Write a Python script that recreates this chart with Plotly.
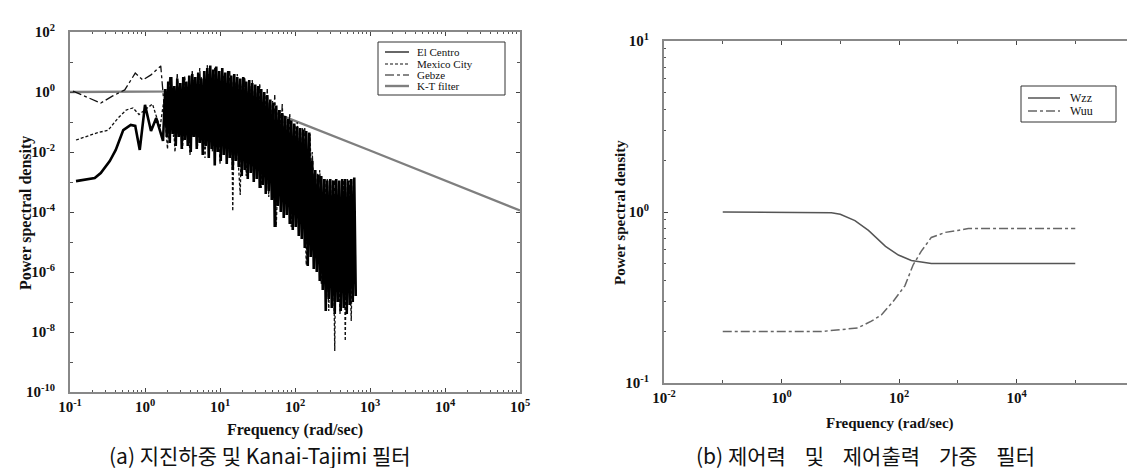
import plotly.graph_objects as go

# ---------------- Panel (a): earthquake spectra and Kanai-Tajimi filter ----------------
# values are log10(frequency [rad/s]) and log10(PSD)
kt_logf = [-1.0, 0.0, 0.5, 0.8, 1.0, 1.15, 1.3, 1.5, 1.7, 1.907, 3.0, 4.0, 5.0]
kt_logpsd = [0.0, 0.0, 0.02, 0.08, 0.2, 0.3, 0.15, -0.4, -0.65, -0.87, -1.95, -2.95, -3.95]

elc_logf = [-0.92, -0.8, -0.67, -0.59, -0.47, -0.39, -0.29, -0.19, -0.13, -0.07, 0.0, 0.08, 0.15, 0.24,
            0.27, 0.29, 0.31, 0.33, 0.35, 0.37, 0.39, 0.41, 0.43, 0.45, 0.47, 0.49, 0.51, 0.53, 0.55,
            0.57, 0.59, 0.61, 0.63, 0.65, 0.67, 0.69, 0.71, 0.73, 0.75, 0.77, 0.79, 0.81, 0.83, 0.85,
            0.87, 0.89, 0.91, 0.93, 0.95, 0.97, 0.99, 1.01, 1.03, 1.05, 1.07, 1.09, 1.11, 1.13, 1.15,
            1.17, 1.19, 1.21, 1.23, 1.25, 1.27, 1.29, 1.31, 1.33, 1.35, 1.37, 1.39, 1.41, 1.43, 1.45,
            1.47, 1.49, 1.51, 1.53, 1.55, 1.57, 1.59, 1.61, 1.63, 1.65, 1.67, 1.69, 1.71, 1.73, 1.75,
            1.77, 1.79, 1.81, 1.83, 1.85, 1.87, 1.89, 1.91, 1.93, 1.95, 1.97, 1.99, 2.01, 2.03, 2.05,
            2.07, 2.09, 2.11, 2.13, 2.15, 2.17, 2.19, 2.21, 2.23, 2.25, 2.27, 2.29, 2.31, 2.33, 2.35,
            2.37, 2.39, 2.41, 2.43, 2.45, 2.47, 2.49, 2.51, 2.53, 2.55, 2.57, 2.59, 2.61, 2.63, 2.65,
            2.67, 2.69, 2.71, 2.73, 2.75, 2.77, 2.79, 2.81]
elc_logpsd = [-2.97, -2.93, -2.87, -2.7, -2.3, -1.93, -1.27, -1.1, -1.13, -1.93, -0.43, -1.3, -0.87, -1.63,
              0.1, -1.5, 0.35, -1.7, 0.5, -1.4, 0.2, -1.8, 0.45, -1.5, 0.3, -1.9, 0.5, -1.6, 0.35,
              -1.8, 0.55, -2.0, 0.6, -1.5, 0.5, -1.9, 0.65, -1.7, 0.45, -2.1, 0.7, -1.8, 0.8, -2.2,
              0.88, -1.9, 0.75, -2.45, 0.85, -2.0, 0.7, -2.3, 0.8, -2.1, 0.65, -2.4, 0.7, -2.2, 0.55,
              -2.6, 0.6, -2.3, 0.5, -2.5, 0.45, -2.8, 0.5, -2.6, 0.35, -2.9, 0.4, -2.7, 0.3, -3.0,
              0.25, -2.9, 0.2, -3.2, 0.1, -3.1, 0.0, -3.4, -0.1, -3.3, -0.25, -3.6, -0.35, -4.5, -0.45,
              -3.8, -0.6, -4.0, -0.7, -4.2, -0.8, -4.1, -0.9, -4.4, -0.95, -4.6, -1.05, -4.5, -1.15, -4.8,
              -1.2, -4.9, -1.25, -5.2, -1.3, -5.8, -1.35, -5.5, -2.3, -5.9, -2.6, -6.0, -2.75, -6.3, -2.8,
              -6.6, -2.9, -7.3, -2.95, -6.9, -2.9, -7.2, -2.95, -7.4, -2.9, -7.0, -2.95, -7.3, -2.9, -7.2,
              -2.9, -7.4, -2.95, -7.1, -2.9, -7.0, -2.85, -6.8]

mex_logf = [-0.92, -0.8, -0.65, -0.49, -0.36, -0.25, -0.16, -0.08, 0.0, 0.1, 0.2,
            0.25, 0.30, 0.35, 0.40, 0.45, 0.50, 0.55, 0.60, 0.65, 0.70, 0.75, 0.80, 0.85, 0.90,
            0.95, 1.00, 1.05, 1.10, 1.15, 1.17, 1.20, 1.25, 1.27, 1.30, 1.35, 1.40, 1.45, 1.50,
            1.55, 1.60, 1.65, 1.70, 1.75, 1.80, 1.85, 1.90, 1.95, 2.00, 2.05, 2.10, 2.15, 2.20,
            2.25, 2.30, 2.35, 2.40, 2.45, 2.50, 2.53, 2.55, 2.60, 2.65, 2.67, 2.70, 2.75, 2.78]
mex_logpsd = [-1.6, -1.5, -1.37, -1.27, -0.87, -0.6, -0.53, -0.75, -0.6, -0.4, -1.2,
              -0.3, -1.9, 0.2, -2.0, 0.1, -1.9, 0.3, -2.1, 0.4, -1.8, 0.5, -2.2, 0.6, -2.0,
              0.65, -2.4, 0.55, -2.1, 0.4, -3.97, 0.35, -2.6, -3.43, 0.3, -2.8, 0.2, -3.0, 0.1,
              -3.2, -0.1, -3.5, -0.3, -4.5, -0.6, -3.9, -0.9, -4.5, -1.1, -4.7, -1.2, -5.77, -1.4,
              -5.6, -2.7, -6.4, -2.9, -7.3, -2.95, -8.63, -2.9, -7.4, -2.95, -8.3, -2.9, -7.63, -2.9]

geb_logf = [-0.96, -0.76, -0.59, -0.43, -0.27, -0.13, -0.03, 0.08, 0.21,
            0.28, 0.33, 0.38, 0.43, 0.48, 0.53, 0.58, 0.63, 0.68, 0.73, 0.78, 0.83, 0.88, 0.93,
            0.98, 1.03, 1.08, 1.13, 1.18, 1.23, 1.28, 1.33, 1.38, 1.43, 1.48, 1.53, 1.58, 1.63,
            1.68, 1.73, 1.78, 1.83, 1.88, 1.93, 1.98, 2.03, 2.08, 2.13, 2.18, 2.23, 2.28, 2.33,
            2.38, 2.43, 2.48, 2.53, 2.58, 2.63, 2.68, 2.73, 2.78]
geb_logpsd = [0.03, -0.2, -0.37, -0.13, 0.07, 0.63, 0.4, 0.57, 0.87,
              -1.2, 0.5, -1.5, 0.6, -1.3, 0.55, -1.7, 0.7, -1.5, 0.8, -1.8, 0.9, -1.6, 0.85,
              -2.0, 0.8, -1.9, 0.7, -2.2, 0.6, -2.1, 0.5, -2.4, 0.4, -2.5, 0.3, -2.7, 0.1,
              -3.0, -0.1, -3.3, -0.4, -3.6, -0.7, -3.9, -1.0, -4.2, -1.2, -4.5, -2.0, -5.0, -2.6,
              -5.6, -2.9, -6.2, -2.95, -6.6, -2.9, -6.9, -2.95, -6.7]

# ---------------- Panel (b): weighting filters ----------------
wzz_logf = [-1.0, 0.0, 0.6, 0.85, 1.0, 1.25, 1.48, 1.77, 1.99, 2.21, 2.55, 3.0, 4.0, 5.0]
wzz_val = [1.0, 1.0, 1.0, 0.99, 0.97, 0.89, 0.78, 0.63, 0.56, 0.52, 0.50, 0.50, 0.50, 0.50]
wuu_logf = [-1.0, 0.0, 0.67, 1.0, 1.30, 1.53, 1.70, 1.90, 2.10, 2.24, 2.38, 2.55, 2.79, 3.0, 3.18, 4.0, 5.0]
wuu_val = [0.20, 0.20, 0.20, 0.205, 0.21, 0.23, 0.25, 0.30, 0.37, 0.49, 0.59, 0.71, 0.76, 0.78, 0.80, 0.80, 0.80]

# tick exponents
a_x_exp = [-1, 0, 1, 2, 3, 4, 5]
a_y_exp = [2, 0, -2, -4, -6, -8, -10]
b_x_exp = [-2, 0, 2, 4, 6]
b_y_exp = [1, 0, -1]

# legend names
a_names = ["El Centro", "Mexico City", "Gebze", "K-T filter"]
b_names = ["Wzz", "Wuu"]


def p10(a):
    return [10 ** v for v in a]


def labels(exps):
    return ["<b>10<sup>%d</sup></b>" % e for e in exps]


SERIF = "Liberation Serif"
W, H = 1135, 468

sty_kt = dict(color="#7f7f7f", width=2.4)
sty_geb = dict(color="#111", width=1.3, dash="dashdot")
sty_mex = dict(color="#111", width=1.3, dash="3px,2px")
sty_elc = dict(color="#000", width=2.6)
sty_wzz = dict(color="#555", width=1.5)
sty_wuu = dict(color="#666", width=1.5, dash="dashdot")

fig = go.Figure()
fig.add_trace(go.Scatter(x=p10(kt_logf), y=p10(kt_logpsd), mode="lines", name=a_names[3],
                         line=sty_kt, xaxis="x", yaxis="y"))
fig.add_trace(go.Scatter(x=p10(geb_logf), y=p10(geb_logpsd), mode="lines", name=a_names[2],
                         line=sty_geb, xaxis="x", yaxis="y"))
fig.add_trace(go.Scatter(x=p10(mex_logf), y=p10(mex_logpsd), mode="lines", name=a_names[1],
                         line=sty_mex, xaxis="x", yaxis="y"))
fig.add_trace(go.Scatter(x=p10(elc_logf), y=p10(elc_logpsd), mode="lines", name=a_names[0],
                         line=sty_elc, xaxis="x", yaxis="y"))
fig.add_trace(go.Scatter(x=p10(wzz_logf), y=wzz_val, mode="lines", name=b_names[0],
                         line=sty_wzz, xaxis="x2", yaxis="y2"))
fig.add_trace(go.Scatter(x=p10(wuu_logf), y=wuu_val, mode="lines", name=b_names[1],
                         line=sty_wuu, xaxis="x2", yaxis="y2"))

axis_common = dict(type="log", showgrid=False, zeroline=False, ticks="inside", ticklen=4,
                   tickcolor="#444", showline=True, linecolor="#888", linewidth=2, mirror="ticks",
                   automargin=False, tickmode="array",
                   tickfont=dict(family=SERIF, size=15, color="#111"))

fig.update_layout(
    width=W, height=H, margin=dict(l=0, r=0, t=0, b=0),
    paper_bgcolor="white", plot_bgcolor="white", showlegend=False,
    xaxis=dict(axis_common, domain=[62 / W, 512 / W], range=[-1, 5], anchor="y",
               tickvals=p10(a_x_exp), ticktext=labels(a_x_exp),
               minor=dict(ticks="inside", ticklen=2, dtick="D1", tickcolor="#555")),
    yaxis=dict(axis_common, domain=[(H - 384) / H, (H - 24) / H], range=[-10, 2], anchor="x",
               tickvals=p10(a_y_exp), ticktext=labels(a_y_exp), ticklabelstandoff=10,
               minor=dict(ticks="inside", ticklen=3, tickmode="linear", tick0=0, dtick=1, tickcolor="#555")),
    xaxis2=dict(axis_common, domain=[656 / W, 1126 / W], range=[-2, 6], anchor="y2",
                tickvals=p10(b_x_exp), ticktext=labels(b_x_exp),
                minor=dict(ticks="inside", ticklen=3, tickmode="linear", tick0=0, dtick=1, tickcolor="#555")),
    yaxis2=dict(axis_common, domain=[(H - 375) / H, (H - 33) / H], range=[-1, 1], anchor="x2",
                tickvals=p10(b_y_exp), ticktext=labels(b_y_exp), ticklabelstandoff=10,
                minor=dict(ticks="inside", ticklen=2, dtick="D1", tickcolor="#555")),
)


def px_x(px):
    return px / W


def px_y(py):
    return (H - py) / H


def add_legend(box, sample_x, text_x, rows, names, styles, size):
    x0, y0, x1, y1 = box
    fig.add_shape(type="rect", xref="paper", yref="paper", x0=px_x(x0), x1=px_x(x1),
                  y0=px_y(y1), y1=px_y(y0), line=dict(color="#333", width=1), fillcolor="white", layer="above")
    for ry, nm, st in zip(rows, names, styles):
        fig.add_shape(type="line", xref="paper", yref="paper", x0=px_x(sample_x[0]), x1=px_x(sample_x[1]),
                      y0=px_y(ry), y1=px_y(ry), line=st, layer="above")
        fig.add_annotation(text=nm, x=px_x(text_x), y=px_y(ry), xref="paper", yref="paper",
                           showarrow=False, xanchor="left", yanchor="middle",
                           font=dict(family=SERIF, size=size, color="#111"))


add_legend((370, 34, 497, 87), (377, 401), 407, [44, 56, 67, 78], a_names,
           [dict(color="#000", width=1.2), dict(color="#111", width=1.2, dash="3px,2px"),
            dict(color="#111", width=1.2, dash="dashdot"), sty_kt], 11)
add_legend((1013, 78, 1108, 114), (1020, 1052), 1060, [90, 103], b_names,
           [sty_wzz, sty_wuu], 12)

ann = [
    dict(text="<b>Power spectral density</b>", x=18 / W, y=(H - 205) / H, textangle=-90, size=16),
    dict(text="<b>Frequency (rad/sec)</b>", x=287 / W, y=(H - 422) / H, size=16),
    dict(text="<b>Power spectral density</b>", x=612 / W, y=(H - 205) / H, textangle=-90, size=15),
    dict(text="<b>Frequency (rad/sec)</b>", x=882 / W, y=(H - 415) / H, size=15),
]
for a in ann:
    size = a.pop("size")
    fig.add_annotation(xref="paper", yref="paper", showarrow=False,
                       font=dict(family=SERIF, size=size, color="#111"),
                       xanchor="center", yanchor="middle", **a)

cap_font = dict(family="Noto Sans CJK KR", size=21, color="#111")
fig.add_annotation(text="(a) 지진하중 및 Kanai-Tajimi 필터", x=252 / W, y=(H - 447) / H,
                   xref="paper", yref="paper", showarrow=False, font=cap_font, xanchor="center", yanchor="middle")
fig.add_annotation(text="(b) 제어력&nbsp;&nbsp;&nbsp;&nbsp;및&nbsp;&nbsp;&nbsp;&nbsp;제어출력&nbsp;&nbsp;&nbsp;&nbsp;가중&nbsp;&nbsp;&nbsp;&nbsp;필터",
                   x=857 / W, y=(H - 447) / H,
                   xref="paper", yref="paper", showarrow=False, font=cap_font, xanchor="center", yanchor="middle")

fig.write_html("out.html")
